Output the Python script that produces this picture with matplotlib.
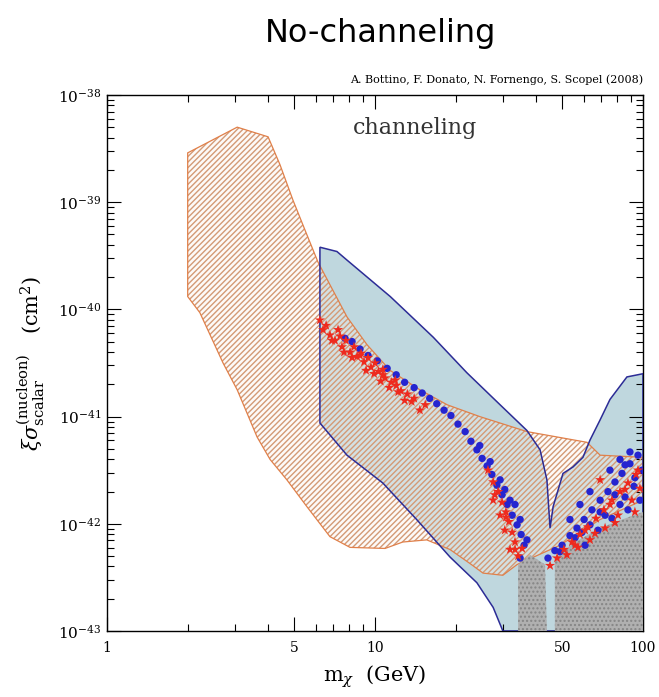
import numpy as np
import matplotlib
matplotlib.use("Agg")
import matplotlib.pyplot as plt
from matplotlib.patches import Polygon
from matplotlib.ticker import FixedLocator, FixedFormatter, LogLocator, NullFormatter

plt.rcParams['font.family'] = 'serif'
plt.rcParams['font.serif'] = ['DejaVu Serif']
plt.rcParams['mathtext.fontset'] = 'dejavuserif'
plt.rcParams['hatch.linewidth'] = 1.0

# --- region boundaries: mass (GeV), log10 of cross section (cm^2) ---
# orange hatched region (no channeling)
orange_m = [2.0, 3.06, 3.99, 4.42, 4.94, 5.48, 6.13, 6.79, 7.86, 9.34, 11.4, 14.7, 18.6,
            24.6, 36.9, 61.8, 69.2, 100, 100, 69.2, 49.0, 33.9, 30.0, 25.3, 22.6, 19.05,
            15.6, 12.7, 10.9, 8.07, 6.79, 5.57, 4.69, 4.06, 3.63, 3.06, 2.71, 2.22, 2.0]
orange_logs = [-38.54, -38.30, -38.39, -38.65, -38.98, -39.26, -39.56, -39.77, -40.07, -40.33,
               -40.57, -40.75, -40.89, -41.00, -41.14, -41.24, -41.36, -41.38, -41.78, -41.96,
               -42.20, -42.38, -42.48, -42.46, -42.37, -42.24, -42.15, -42.17, -42.23, -42.22,
               -42.12, -41.84, -41.59, -41.40, -41.19, -40.75, -40.50, -40.03, -39.88]

# light blue region (channeling)
blue_m = [6.23, 7.21, 7.86, 11.4, 16.5, 22.0, 29.3, 36.9, 41.3, 43.8, 45.0, 46.2, 50.3,
          54.8, 59.7, 63.4, 69.2, 75.3, 87.1, 100, 100, 30.0, 27.6, 24.0, 19.05, 14.3,
          10.7, 7.86, 6.23]
blue_logs = [-39.42, -39.46, -39.54, -39.88, -40.26, -40.59, -40.89, -41.13, -41.31, -41.59,
             -42.04, -41.84, -41.53, -41.47, -41.38, -41.22, -41.03, -40.84, -40.63, -40.60,
             -43.0, -43.0, -42.78, -42.55, -42.31, -41.96, -41.62, -41.36, -41.06]

# grey excluded points (drawn as stippled areas)
grey1_m = [34.2, 37.9, 43.1, 43.8, 34.2]
grey1_logs = [-42.38, -42.29, -42.38, -43.0, -43.0]
grey2_m = [46.9, 46.9, 55.8, 69.2, 85.7, 100, 100]
grey2_logs = [-43.0, -42.32, -42.17, -42.04, -41.95, -41.89, -43.0]

# model points
red_m = [6.23, 6.40, 6.79, 7.09, 7.28, 7.53, 7.79, 8.07, 8.35, 8.57, 8.87, 9.10, 9.42, 9.66,
         10.0, 10.3, 10.7, 10.9, 11.5, 12.0, 12.5, 13.2, 14.0, 15.4,
         6.57, 6.91, 7.40, 7.66, 8.21, 8.79, 9.26, 9.92, 10.5, 11.3, 12.2, 12.9, 13.7, 14.7,
         11.9, 10.7,
         26.4, 27.6, 28.8, 29.8, 30.8, 31.6, 32.5, 33.3, 31.9, 34.2, 35.4, 29.3, 27.6, 30.8,
         30.5, 33.3, 28.0,
         45.0, 47.8, 50.7, 54.3, 58.2, 62.3, 66.8, 71.5, 76.6, 82.1, 87.9, 94.2,
         63.4, 72.2, 80.7, 90.9, 97.4, 57.2, 52.0, 60.8, 75.3, 85.7, 95.8,
         66.2, 78.6, 93.3, 55.8, 69.2]
red_logs = [-40.10, -40.19, -40.24, -40.29, -40.19, -40.35, -40.29, -40.40, -40.35, -40.44,
            -40.41, -40.49, -40.45, -40.54, -40.50, -40.58, -40.56, -40.64, -40.68, -40.71,
            -40.76, -40.79, -40.83, -40.89,
            -40.15, -40.29, -40.25, -40.40, -40.45, -40.43, -40.57, -40.60, -40.67, -40.73,
            -40.77, -40.85, -40.86, -40.94, -40.66, -40.61,
            -41.50, -41.61, -41.70, -41.80, -41.89, -41.98, -42.08, -42.17, -42.24, -42.30,
            -42.23, -41.92, -41.78, -41.94, -42.06, -42.24, -41.73,
            -42.39, -42.32, -42.24, -42.17, -42.10, -42.03, -41.95, -41.87, -41.78, -41.70,
            -41.62, -41.54, -42.15, -42.04, -41.92, -41.78, -41.67, -42.22, -42.29, -42.06,
            -41.82, -41.68, -41.50,
            -42.09, -41.99, -41.89, -42.20, -41.59]

blue_pts_m = [7.73, 8.21, 8.79, 9.42, 10.2, 11.1, 12.0, 12.9, 14.0, 15.0, 16.0, 17.0, 18.1,
              19.2, 20.4, 21.7, 22.8, 24.0, 25.1, 26.2, 27.3, 28.5, 29.8, 31.1, 32.5, 33.9,
              35.1, 36.0, 34.8, 24.6, 30.5, 33.3, 29.3, 31.9, 34.8, 36.9, 26.9,
              44.2, 46.9, 49.9, 53.4, 56.7, 60.3, 64.5, 69.2, 74.0, 78.6, 83.5, 89.4, 95.8,
              99.1, 92.5, 85.7, 76.6, 67.9, 60.8, 87.9, 97.4,
              49.0, 55.8, 63.4, 72.2, 82.1, 93.3, 85.7, 78.6, 69.2, 59.2,
              53.4, 58.2, 63.4, 75.3, 82.1, 89.4]
blue_pts_logs = [-40.27, -40.30, -40.37, -40.43, -40.48, -40.55, -40.61, -40.68, -40.73, -40.78,
                 -40.83, -40.88, -40.94, -40.99, -41.07, -41.14, -41.23, -41.31, -41.39, -41.46,
                 -41.54, -41.64, -41.73, -41.82, -41.92, -42.01, -42.10, -42.20, -42.32, -41.27,
                 -41.68, -41.82, -41.59, -41.78, -41.96, -42.15, -41.42,
                 -42.32, -42.25, -42.20, -42.11, -42.04, -41.96, -41.87, -41.78, -41.70, -41.61,
                 -41.53, -41.44, -41.36, -41.50, -41.65, -41.75, -41.95, -42.06, -42.20, -41.87,
                 -41.78,
                 -42.26, -42.13, -42.01, -41.92, -41.82, -41.57, -41.45, -41.73, -41.89, -42.08,
                 -41.96, -41.82, -41.70, -41.50, -41.40, -41.33]


def pts(m, logs):
    return np.column_stack([m, 10.0 ** np.array(logs)])


fig = plt.figure(figsize=(6.59, 6.97), dpi=100)
ax = fig.add_axes([0.1624, 0.0947, 0.8133, 0.7690])
ax.set_xscale('log')
ax.set_yscale('log')
ax.set_xlim(1, 100)
ax.set_ylim(1e-43, 1e-38)

ax.add_patch(Polygon(pts(blue_m, blue_logs), closed=True, facecolor='#bfd7de',
                     edgecolor='none', zorder=1))
ax.add_patch(Polygon(pts(orange_m, orange_logs), closed=True, facecolor='#fbf3ec',
                     edgecolor='none', alpha=0.35, zorder=1.5))
ax.add_patch(Polygon(pts(orange_m, orange_logs), closed=True, facecolor='none',
                     edgecolor='#d39a76', hatch='//////', linewidth=0, zorder=2))
ax.add_patch(Polygon(pts(orange_m, orange_logs), closed=True, facecolor='none',
                     edgecolor='#e0804a', linewidth=0.9, zorder=3))
ax.add_patch(Polygon(pts(blue_m, blue_logs), closed=True, facecolor='none',
                     edgecolor='#2c2c96', linewidth=1.1, zorder=3))
for gm, gl in [(grey1_m, grey1_logs), (grey2_m, grey2_logs)]:
    ax.add_patch(Polygon(pts(gm, gl), closed=True, facecolor='#b0b0b0',
                         edgecolor='#858585', hatch='....', linewidth=0, zorder=4))

ax.scatter(blue_pts_m, 10.0 ** np.array(blue_pts_logs), s=28, marker='o', color='#2525d0',
           edgecolors='none', zorder=5)
ax.scatter(red_m, 10.0 ** np.array(red_logs), s=60, marker='*', color='#ee2a1e',
           edgecolors='none', zorder=6)

# ticks
ax.xaxis.set_major_locator(FixedLocator([1, 5, 10, 50, 100]))
ax.xaxis.set_major_formatter(FixedFormatter(['1', '5', '10', '50', '100']))
ax.xaxis.set_minor_locator(FixedLocator([2, 3, 4, 6, 7, 8, 9, 20, 30, 40, 60, 70, 80, 90]))
ax.xaxis.set_minor_formatter(NullFormatter())
ax.yaxis.set_major_locator(FixedLocator([1e-43, 1e-42, 1e-41, 1e-40, 1e-39, 1e-38]))
ax.yaxis.set_minor_locator(LogLocator(base=10, subs=np.arange(2, 10), numticks=20))
ax.yaxis.set_minor_formatter(NullFormatter())
ax.tick_params(which='both', direction='in', top=True, right=True, labelsize=10, width=0.8)
ax.tick_params(which='major', length=10, pad=7)
ax.tick_params(which='minor', length=5)
ax.tick_params(axis='y', which='major', pad=4, labelsize=11)
for s in ax.spines.values():
    s.set_linewidth(1.0)

ax.set_xlabel(r'm$_\chi$  (GeV)', fontsize=15, labelpad=6)
ax.set_ylabel(r'$\xi\sigma^{\rm (nucleon)}_{\rm scalar}$   (cm$^2$)', fontsize=15, labelpad=8)

ax.text(0.575, 0.938, 'channeling', transform=ax.transAxes, ha='center', va='center',
        fontsize=16, color='#333333')
fig.text(0.976, 0.885, 'A. Bottino, F. Donato, N. Fornengo, S. Scopel (2008)',
         ha='right', va='center', fontsize=8)
fig.text(0.577, 0.952, 'No-channeling', ha='center', va='center', fontsize=23,
         family='DejaVu Sans')

fig.savefig('out.png', dpi=100)
